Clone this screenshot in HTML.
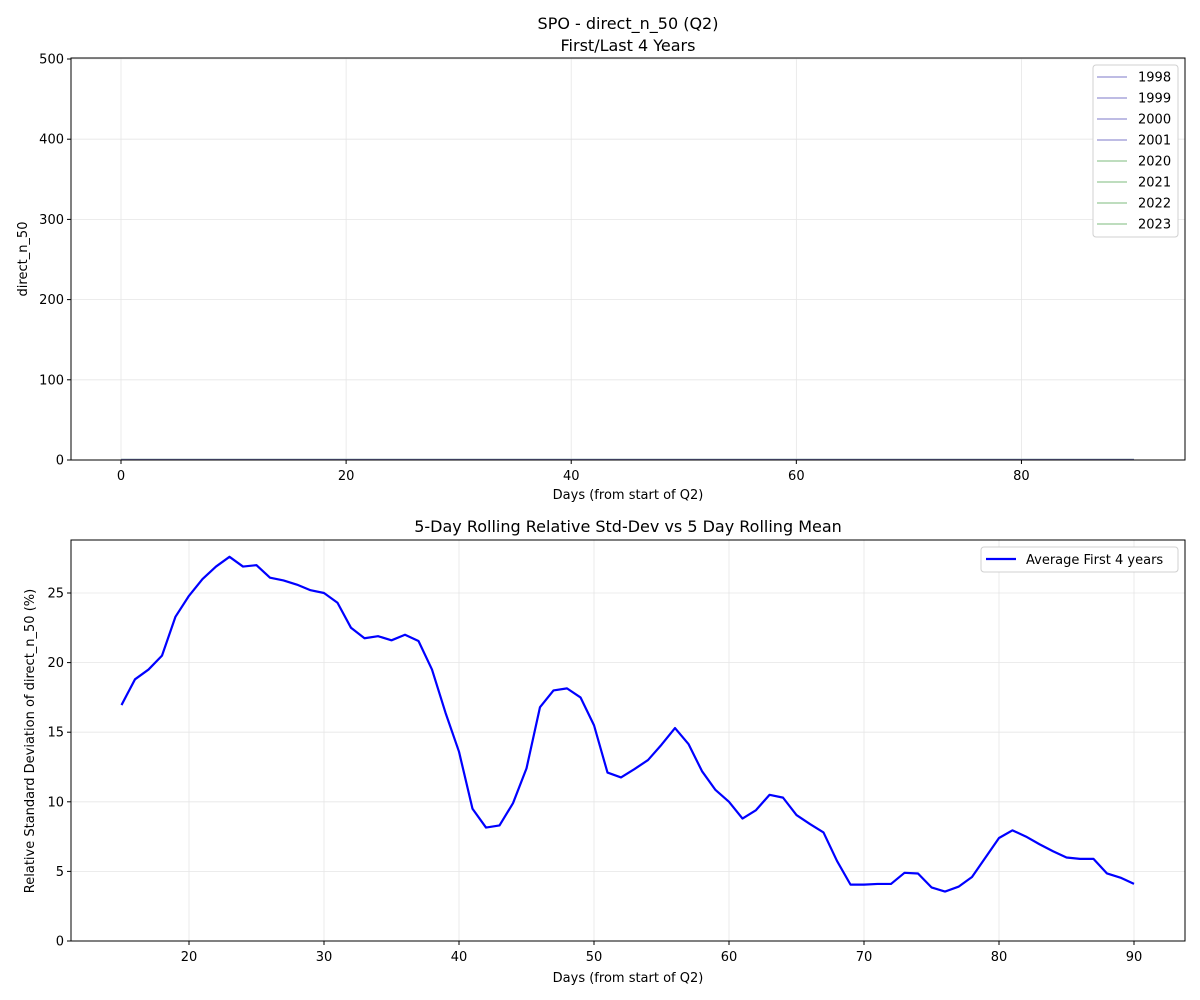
<!DOCTYPE html>
<html><head><meta charset="utf-8"><style>
body{margin:0;background:#fff}
svg{display:block;font-family:"DejaVu Sans","Liberation Sans",sans-serif}
</style></head><body>
<svg id="c" width="1200" height="1000"></svg>
<script>
const days1 = [];for(let d=0;d<=90;d++)days1.push(d);
const years = ['1998','1999','2000','2001','2020','2021','2022','2023'];
const yearColors = ['#a9a6db','#a9a6db','#a9a6db','#a9a6db','#a8d2a8','#a8d2a8','#a8d2a8','#a8d2a8'];
const yearLevel = [0.5,0.6,0.4,0.5,0.3,0.4,0.3,0.4];
const topXTicks = [0,20,40,60,80];
const topYTicks = [0,100,200,300,400,500];
const days2 = [15,16,17,18,19,20,21,22,23,24,25,26,27,28,29,30,31,32,33,34,35,36,37,38,39,40,41,42,43,44,45,46,47,48,49,50,51,52,53,54,55,56,57,58,59,60,61,62,63,64,65,66,67,68,69,70,71,72,73,74,75,76,77,78,79,80,81,82,83,84,85,86,87,88,89,90];
const rsd = [16.95,18.8,19.5,20.5,23.3,24.8,26.0,26.9,27.6,26.9,27.0,26.1,25.9,25.6,25.2,25.0,24.3,22.5,21.75,21.9,21.6,22.0,21.55,19.5,16.4,13.6,9.5,8.15,8.3,9.9,12.4,16.8,18.0,18.15,17.5,15.5,12.1,11.75,12.35,13.0,14.1,15.3,14.15,12.2,10.85,10.0,8.8,9.4,10.5,10.3,9.05,8.4,7.8,5.75,4.05,4.05,4.1,4.1,4.9,4.85,3.85,3.55,3.9,4.6,6.0,7.4,7.95,7.5,6.95,6.45,6.0,5.9,5.9,4.85,4.55,4.1];
const botXTicks = [20,30,40,50,60,70,80,90];
const botYTicks = [0,5,10,15,20,25];

const svg=document.getElementById('c');const NS='http://www.w3.org/2000/svg';
function mk(t,a,txt){const e=document.createElementNS(NS,t);for(const k in a)e.setAttribute(k,a[k]);if(txt!==undefined)e.textContent=txt;svg.appendChild(e);return e;}
const L=71,R=1185;
const tx=d=>121+(d-0)*(1134-121)/90, ty=v=>460-v*(460-59)/500;
const bx=d=>121.5+(d-15)*(1134-121.5)/75, by=v=>941-v*(941-593)/25;

function axes(top,bot,xt,xf,yt,yf,name){
  for(const t of xt){const g=mk('line',{x1:xf(t),x2:xf(t),y1:top,y2:bot,stroke:'#e6e6e6','stroke-width':0.8});}
  for(const t of yt){const g=mk('line',{x1:L,x2:R,y1:yf(t),y2:yf(t),stroke:'#e6e6e6','stroke-width':0.8});}
  for(const t of xt){mk('line',{x1:xf(t),x2:xf(t),y1:bot,y2:bot+4,stroke:'#000'});const e=mk('text',{x:xf(t),y:bot+20,'text-anchor':'middle','font-size':13},t);}
  for(const t of yt){mk('line',{x1:L-4,x2:L,y1:yf(t),y2:yf(t),stroke:'#000'});const e=mk('text',{x:L-7,y:yf(t)+4.5,'text-anchor':'end','font-size':13},t);}
}
axes(58,460,topXTicks,tx,topYTicks,ty,'top');
axes(540,941,botXTicks,bx,botYTicks,by,'bottom');

years.forEach((y,i)=>{const p=mk('polyline',{points:days1.map(d=>tx(d)+','+ty(yearLevel[i])).join(' '),fill:'none',stroke:yearColors[i],'stroke-width':1.5});
});
mk('line',{x1:tx(0),x2:tx(90),y1:ty(0.5),y2:ty(0.5),stroke:'#7a78b8','stroke-width':1.2});
const bl=mk('polyline',{points:days2.map((d,i)=>bx(d)+','+by(rsd[i])).join(' '),fill:'none',stroke:'#0000ff','stroke-width':2.2,'stroke-linejoin':'round'});


let f=mk('rect',{x:L,y:58,width:R-L,height:402,fill:'none',stroke:'#000','stroke-width':1});
f=mk('rect',{x:L,y:540,width:R-L,height:401,fill:'none',stroke:'#000','stroke-width':1});

let t=mk('text',{x:628,y:29,'text-anchor':'middle','font-size':16},'SPO - direct_n_50 (Q2)');
t=mk('text',{x:628,y:51,'text-anchor':'middle','font-size':16},'First/Last 4 Years');
t=mk('text',{x:628,y:499,'text-anchor':'middle','font-size':13},'Days (from start of Q2)');
t=mk('text',{x:27,y:259,'text-anchor':'middle','font-size':13,transform:'rotate(-90 27 259)'},'direct_n_50');
t=mk('text',{x:628,y:532,'text-anchor':'middle','font-size':16},'5-Day Rolling Relative Std-Dev vs 5 Day Rolling Mean');
t=mk('text',{x:628,y:982,'text-anchor':'middle','font-size':13},'Days (from start of Q2)');
t=mk('text',{x:34,y:741,'text-anchor':'middle','font-size':13,transform:'rotate(-90 34 741)'},'Relative Standard Deviation of direct_n_50 (%)');

let lg=mk('rect',{x:1093,y:65,width:85,height:172,rx:3,fill:'#fff',stroke:'#d0d0d0'});
years.forEach((y,i)=>{const yy=77+i*21;mk('line',{x1:1097,x2:1127,y1:yy,y2:yy,stroke:yearColors[i],'stroke-width':1.5});
const e=mk('text',{x:1138,y:yy+4.5,'font-size':13},y);});
lg=mk('rect',{x:981,y:547,width:197,height:25,rx:3,fill:'#fff',stroke:'#d0d0d0'});
mk('line',{x1:986,x2:1016,y1:559,y2:559,stroke:'#0000ff','stroke-width':2.2});
t=mk('text',{x:1026,y:564,'font-size':13},'Average First 4 years');
</script>
</body></html>
